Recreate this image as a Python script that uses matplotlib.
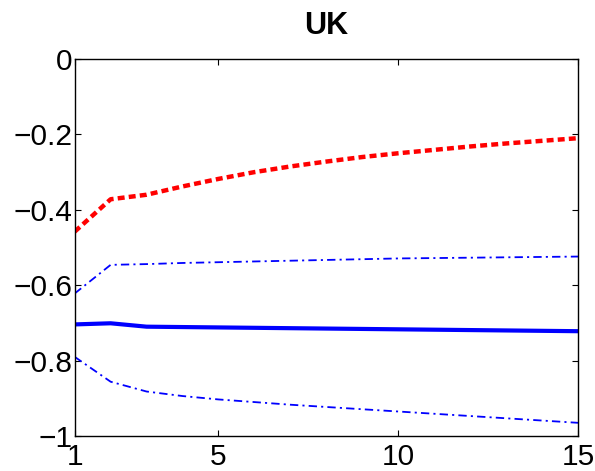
import matplotlib
matplotlib.use("Agg")
import matplotlib.pyplot as plt

plt.rcParams['font.family'] = ['Liberation Sans', 'DejaVu Sans']
plt.rcParams['lines.scale_dashes'] = False

# horizons
steps = list(range(1, 16))

# upper band (red dotted)
upper_red = [-0.458, -0.372, -0.360, -0.338, -0.318, -0.300, -0.285, -0.272,
             -0.260, -0.250, -0.241, -0.232, -0.224, -0.217, -0.210]
# upper blue band (dash-dot)
upper_blue = [-0.622, -0.546, -0.544, -0.541, -0.539, -0.537, -0.535, -0.533,
              -0.531, -0.529, -0.528, -0.527, -0.526, -0.525, -0.524]
# point estimate (solid)
median = [-0.704, -0.701, -0.710, -0.711, -0.712, -0.713, -0.714, -0.715,
          -0.716, -0.717, -0.718, -0.719, -0.720, -0.721, -0.722]
# lower blue band (dash-dot)
lower_blue = [-0.790, -0.856, -0.882, -0.894, -0.903, -0.910, -0.917, -0.923,
              -0.929, -0.935, -0.941, -0.947, -0.953, -0.959, -0.965]

xticks = [1, 5, 10, 15]
yticks = [0, -0.2, -0.4, -0.6, -0.8, -1]
ylabels = ['0', '\u22120.2', '\u22120.4', '\u22120.6', '\u22120.8', '\u22121']

fig = plt.figure(figsize=(5.95, 4.71), dpi=100)
ax = fig.add_axes([0.1255, 0.0743, 0.8459, 0.8004])

ax.plot(steps, upper_red, color='red', lw=3.2, linestyle=(0, (5, 3)))
ax.plot(steps, upper_blue, color='blue', lw=1.3, linestyle=(0, (6, 3, 1.5, 3)))
ax.plot(steps, median, color='blue', lw=3.0, linestyle='-')
ax.plot(steps, lower_blue, color='blue', lw=1.3, linestyle=(0, (6, 3, 1.5, 3)))

ax.set_xlim(1, 15)
ax.set_ylim(-1, 0)
ax.set_xticks(xticks)
ax.set_xticklabels([str(t) for t in xticks])
ax.set_yticks(yticks)
ax.set_yticklabels(ylabels)

ax.tick_params(direction='in', length=4, width=0.8, top=True, right=True,
               labelsize=21.5)
ax.tick_params(axis='x', pad=5)
ax.tick_params(axis='y', pad=1.5)
for s in ax.spines.values():
    s.set_linewidth(1.0)

ax.set_title('UK', fontsize=22, fontweight='bold', pad=18)

fig.savefig('out.png', dpi=100)
